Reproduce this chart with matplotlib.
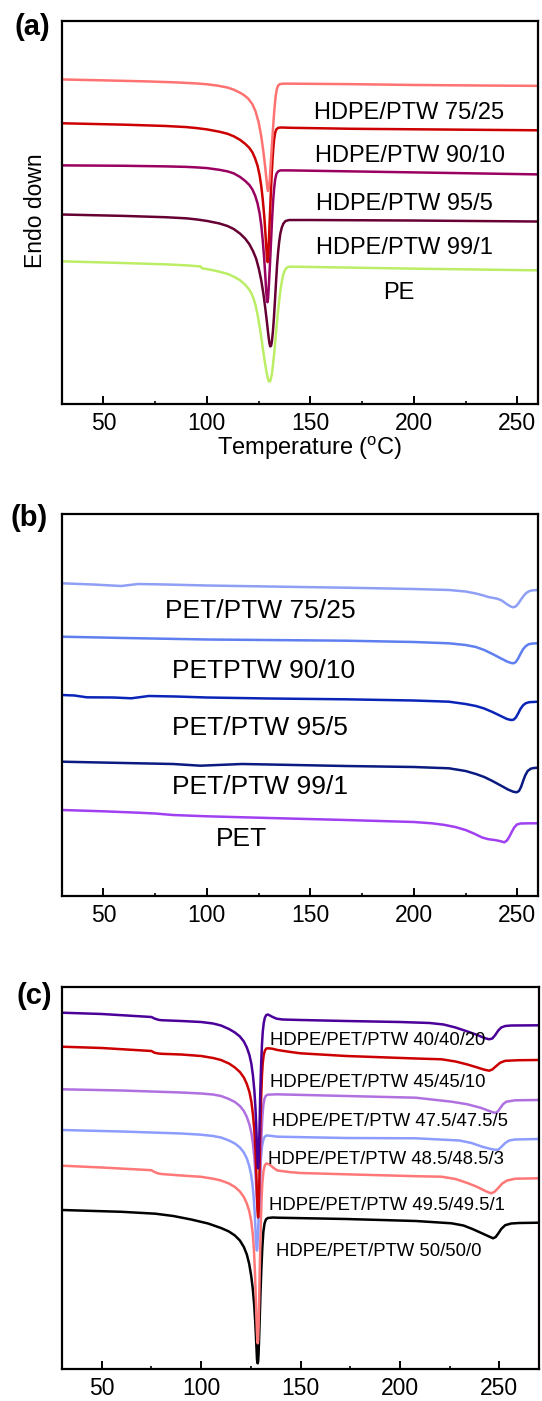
import matplotlib
matplotlib.use("Agg")
import matplotlib.pyplot as plt
from matplotlib.ticker import MultipleLocator, NullLocator

plt.rcParams['font.family'] = ['Liberation Sans', 'DejaVu Sans']
plt.rcParams['mathtext.fontset'] = 'custom'
plt.rcParams['mathtext.rm'] = 'Liberation Sans'

# ---- (a) HDPE / PTW blends, heat flow in arbitrary units (endo down) ----
a_names = ['HDPE/PTW 75/25', 'HDPE/PTW 90/10', 'HDPE/PTW 95/5', 'HDPE/PTW 99/1', 'PE']
a_colors = ['#ff7272', '#cc0000', '#990060', '#660033', '#bbee66']

a_t_7525 = [30, 50, 70, 85, 95, 100, 105, 110, 113, 116, 118, 120, 122, 123.5, 125, 126.2, 127.3, 128.2,
            128.8, 129.2, 129.5, 129.9, 130.4, 130.8, 131.3, 131.8, 132.3, 132.8, 133.3, 133.8, 134.4,
            135.2, 137, 140, 170, 200, 230, 260]
a_y_7525 = [323.7, 322.8, 321.8, 320.8, 319.7, 318.9, 317.6, 315.6, 313.5, 310.5, 308, 304.5, 299, 292, 281, 268, 252, 236,
            224, 216, 212.5, 215, 224, 238, 254, 270, 285, 298, 308, 314, 317.5,
            319, 319.5, 319.5, 319, 318.2, 317.7, 317.3]

a_t_9010 = [30, 60, 80, 90, 95, 100, 106, 110, 113, 116, 118.5, 120.5, 122, 123.3, 124.5, 125.5, 126.3, 127, 127.7,
            128.3, 128.8, 129.1, 129.4, 129.7, 130.1, 130.5, 130.9, 131.3, 131.7, 132.1, 132.5, 133, 133.6,
            134.5, 136, 140, 170, 200, 230, 260]
a_y_9010 = [280, 278.6, 277.3, 276.2, 275.2, 273.9, 271.6, 269.5, 267, 263.5, 259.5, 255.5, 251, 245, 237.5, 228, 217, 204, 188,
            170, 153, 143, 141.5, 150, 170, 190, 210, 228, 243, 255, 264, 270.5, 274,
            275.5, 275.8, 275.5, 274.5, 274, 273.5, 273]

a_t_955 = [30, 60, 80, 90, 95, 100, 106, 110, 113, 116, 118.5, 120.5, 122, 123.3, 124.5, 125.5, 126.3, 127, 127.7,
           128.2, 128.6, 128.9, 129.1, 129.3, 129.6, 130, 130.5, 131, 131.5, 132, 132.5, 133, 133.6, 134.4,
           135.5, 140, 170, 200, 230, 260]
a_y_955 = [238, 237.6, 237, 236.5, 236, 235.3, 233.6, 232, 230, 226.5, 222.5, 218.5, 214, 208, 200, 190, 178, 163, 145,
           129, 115, 106, 102, 101.5, 106, 120, 140, 162, 184, 202, 215, 224, 229.5, 232,
           233, 233, 232, 231, 230, 229]

a_t_991 = [30, 60, 80, 90, 95, 100, 106, 110, 113, 116, 118.5, 120.5, 122.3, 123.8, 125.1, 126.3, 127.3, 128.2, 129,
           129.7, 130.2, 130.6, 131, 131.4, 131.9, 132.4, 132.9, 133.4, 133.9, 134.4, 134.9, 135.5, 136.2,
           137, 138, 139.8, 150, 200, 260]
a_y_991 = [189, 187.6, 186.3, 185.2, 184.1, 182.6, 180.1, 177.5, 174.5, 170, 165, 159.5, 152.5, 145, 135, 123, 110, 96, 82,
           69, 61, 57.5, 58, 62, 72, 86, 103, 121, 138, 151, 161, 170, 176,
           180, 182.5, 183.5, 183.5, 183, 182]

a_t_pe = [30, 60, 80, 90, 97, 97.6, 100, 105, 110, 113, 116, 118.5, 120.3, 121.5, 122.6, 123.6, 124.6, 125.5,
          126.4, 127.2, 128, 128.8, 129.4, 130, 130.5, 131, 131.5, 132, 132.6, 133.2, 133.8, 134.4, 135,
          135.6, 136.2, 136.9, 137.7, 138.6, 140, 170, 200, 260]
a_y_pe = [142.3, 140.6, 139.3, 138.3, 137.2, 135.3, 134.6, 132.5, 129.8, 127, 123.5, 119, 114.5, 110.5, 105, 98, 88, 77,
          65, 53, 42, 32, 26, 22.5, 22.5, 25.5, 31, 40, 52, 66, 80, 93, 104,
          114, 122, 129, 133.5, 136, 137, 136, 135, 133.3]

# label anchor (temperature, heat flow)
a_lab_t = [197.5, 198, 195.5, 195.6, 192.7]
a_lab_y = [290, 247, 199, 156, 111]

# ---- (b) PET / PTW blends ----
b_names = ['PET/PTW 75/25', 'PETPTW 90/10', 'PET/PTW 95/5', 'PET/PTW 99/1', 'PET']
b_colors = ['#8e9ff5', '#5f7ff0', '#0a24b8', '#0a1a80', '#a040f0']

b_t_7525 = [30, 45, 58.5, 66.9, 80, 100, 130, 167, 200, 217, 225, 230, 233.7, 236, 238.5, 240.5, 242.5,
            244.5, 246.5, 247.9, 249.2, 250.5, 251.8, 253, 254.3, 255.7, 257.5, 260]
b_y_7525 = [312.7, 311.5, 310, 312, 311.5, 310.5, 309.5, 308.3, 307, 306, 304.5, 302.5, 300.5, 299, 298, 297.2, 295.5,
            292.5, 289.8, 288.7, 289.5, 292.5, 296.5, 300, 303, 304.8, 305.7, 306]

b_t_9010 = [30, 60, 100, 167, 200, 217, 225, 230, 234, 238, 242, 245, 247, 248.2, 249.3, 250.4, 251.5,
            252.7, 254, 255.5, 257.5, 260]
b_y_9010 = [259.3, 258, 256.5, 255.3, 254, 252.7, 251, 249, 246, 242, 237.7, 234.5, 233, 232.7, 234, 237.5, 242,
            246.5, 249.7, 251.8, 252.5, 252.7]

b_t_955 = [30, 36, 41.9, 55, 63.5, 71.9, 85, 100, 130, 167, 200, 217, 225, 230, 234, 238, 242, 245,
           247, 248.2, 249.3, 250.4, 251.5, 252.7, 254, 255.7, 260]
b_y_955 = [201, 200.5, 198.7, 198.5, 197.7, 200, 199.5, 198.5, 197.5, 196.7, 195.5, 194.3, 192, 190, 187.5, 184, 180, 177,
           176, 176.3, 178.5, 182.5, 187, 190.5, 192.7, 193.8, 194.3]

b_t_991 = [30, 60, 83.6, 96.9, 117, 130, 167, 200, 217, 225, 230, 234, 238, 242, 245.5, 248, 249.7,
           250.8, 251.8, 252.8, 253.8, 255, 256.5, 258, 260]
b_y_991 = [134.3, 133, 132, 130.3, 132, 131.5, 130, 129, 127.7, 125, 122, 119, 115, 110.5, 106.5, 104.3, 103.7,
           105, 109, 115, 120.5, 125, 127.3, 128, 128.3]

b_t_pet = [30, 50, 66.9, 75, 83.6, 100, 130, 167, 200, 208.7, 215, 220, 225, 229, 233, 236, 239,
           241.5, 243.7, 245, 246.2, 247.3, 248.5, 249.8, 251.5, 256, 260]
b_y_pet = [86, 84.7, 83.3, 82.5, 81, 79.7, 78, 76, 74, 72.7, 71, 69, 66, 62.5, 58.5, 56.8, 56,
           55, 53.7, 55.5, 59.5, 64, 68.5, 71.5, 72.5, 72.7, 72.7]

b_lab_t = [125.8, 127.3, 125.8, 125.8, 116.9]
b_lab_y = [285, 225.3, 168.3, 108.7, 56.7]

# ---- (c) HDPE / PET / PTW blends ----
c_names = ['HDPE/PET/PTW 40/40/20', 'HDPE/PET/PTW 45/45/10', 'HDPE/PET/PTW 47.5/47.5/5',
           'HDPE/PET/PTW 48.5/48.5/3', 'HDPE/PET/PTW 49.5/49.5/1', 'HDPE/PET/PTW 50/50/0']
c_colors = ['#4b0099', '#cc0000', '#b070e0', '#8c9cff', '#ff7777', '#000000']

c_t_20 = [30, 50, 75, 76.5, 78.5, 80, 90, 100, 106, 110, 114, 117, 119.5, 121.5, 123, 124.3, 125.3,
          126.1, 126.8, 127.3, 127.7, 128, 128.3, 128.5, 128.7, 128.9, 129.2, 129.5, 129.8, 130.2, 130.6,
          131, 131.5, 132.1, 132.8, 133.6, 134.6, 136, 138, 141, 150, 173, 200, 215, 222, 228, 234, 239,
          242.5, 244.9, 246.5, 248, 249.5, 251, 253, 256, 270]
c_y_20 = [356.3, 355, 352, 350.5, 349.2, 348.8, 348, 347, 345.5, 343.5, 340, 336.5, 332.5, 327.5, 321.5, 314, 305,
          293, 278, 262, 245, 228, 210, 202, 200.7, 206, 225, 252, 280, 305, 324,
          337, 346, 351.5, 354, 354.5, 353.5, 352, 350.3, 349.5, 349, 348, 347, 346, 344.5, 341.5, 337.5, 334,
          331, 329.7, 330.5, 334, 338.5, 341.5, 343, 343.5, 343.7]

c_t_10 = [30, 50, 75, 76.5, 78.5, 80, 90, 100, 106, 110, 114, 117, 119.5, 121.5, 123, 124.3, 125.3,
          126.1, 126.8, 127.3, 127.7, 128, 128.3, 128.5, 128.7, 128.9, 129.2, 129.5, 129.8, 130.2, 130.6,
          131, 131.5, 132.1, 132.8, 134, 136, 138.4, 145, 150, 173, 208, 221, 228, 234, 239, 242.5,
          244.9, 246.5, 248.5, 250.5, 253, 260, 270]
c_y_10 = [322.3, 321, 318, 316.3, 315.5, 315.2, 314.5, 313, 311, 309, 305.5, 301.5, 297, 291.5, 285, 277, 267,
          254, 238, 220, 200, 180, 162, 154, 151.5, 156, 178, 210, 243, 272, 293,
          306, 314, 318.5, 320.5, 320.7, 320.2, 319, 317, 315.7, 313, 310.5, 309.7, 307.5, 304.5, 301.5, 299.3,
          298.3, 299.5, 303, 306.3, 308.2, 308.8, 309]

c_t_5 = [30, 60, 90, 100, 106, 110, 114, 117, 119.5, 121.5, 123, 124.3, 125.3, 126.1, 126.8, 127.3, 127.7,
         128, 128.3, 128.6, 128.9, 129.1, 129.4, 129.7, 130, 130.4, 130.8, 131.3, 131.9, 132.6, 133.5, 138,
         173, 208, 226, 234, 241, 245, 247, 248.4, 249.5, 250.5, 252, 253.6, 258, 270]
c_y_5 = [279.7, 278.5, 276.5, 275.5, 274.5, 273, 270, 267, 263, 258, 252, 244.5, 236, 225, 211, 197, 183,
         172, 162, 158, 157.5, 160, 172, 190, 212, 235, 252, 264, 270.5, 273.3, 274.3, 274.7,
         273, 271.3, 267.3, 264.7, 261, 258, 256.5, 256.3, 258, 261, 265, 267.3, 268.7, 269]

c_t_3 = [30, 60, 90, 100, 106, 110, 114, 117, 119.5, 121.5, 123, 124.2, 125.1, 125.8, 126.4, 126.9, 127.3,
         127.6, 127.9, 128.1, 128.3, 128.6, 128.9, 129.3, 129.7, 130.1, 130.6, 131.2, 131.9, 132.8, 135,
         138.4, 173, 208, 230, 236, 241.4, 245.8, 248, 249.5, 251, 253, 255, 258, 270]
c_y_3 = [239, 237.5, 235.5, 234.3, 233, 231.5, 228.5, 225.5, 221.5, 216.5, 210.5, 203, 195, 185, 173, 158, 142,
         128, 120, 118.5, 121, 134, 152, 175, 196, 211, 222, 228.5, 232, 233.5, 233.2,
         232.3, 231, 230.7, 228.5, 226, 222.3, 220, 219.2, 219.3, 222, 226, 228.5, 229.5, 230]

c_t_1 = [30, 50, 75, 76.5, 78.5, 80, 90, 100, 106, 110, 114, 117, 119.5, 121.5, 123, 124.2, 125.2,
         126, 126.6, 127.1, 127.5, 127.8, 128.1, 128.3, 128.5, 128.7, 128.9, 129.2, 129.5, 129.9, 130.3,
         130.8, 131.4, 132, 132.8, 133.8, 135, 136.5, 138.4, 145, 150, 173, 208, 221, 228, 234.4, 239,
         243, 245.8, 247.5, 249.5, 251.5, 254, 258, 270]
c_y_1 = [203.3, 201.5, 198.8, 197, 195.5, 195, 193.5, 192.2, 190.3, 188.5, 185.5, 182, 177.5, 172, 165.5, 158, 148,
         135, 118, 96, 72, 52, 36, 28, 25.7, 29, 42, 68, 100, 135, 165,
         186, 198, 203.5, 205.5, 205, 203.5, 201, 198.5, 196.8, 196, 194.7, 192.8, 192.3, 190, 185.7, 182,
         178, 175.7, 177, 181, 185.5, 188.5, 190.3, 190.7]

c_t_0 = [30, 60, 77, 86, 95, 103.5, 110, 114, 117, 119.5, 121.5, 123, 124.2, 125.2, 126, 126.7, 127.2,
         127.6, 127.9, 128.1, 128.3, 128.5, 128.7, 128.9, 129.2, 129.5, 129.9, 130.3, 130.8, 131.3, 131.9,
         132.6, 133.5, 136, 138.4, 173, 208, 226, 232, 236.5, 241, 244.5, 246.9, 248.2, 249.5, 251, 253,
         256, 260, 270]
c_y_0 = [159, 157.2, 155.3, 153, 149.5, 145.5, 141, 137.5, 133.5, 128.5, 122, 114.5, 105, 93, 80, 64, 48,
         32, 19, 10, 6, 5.7, 8, 15, 32, 52, 78, 100, 122, 137, 145.5,
         149.5, 151, 151.5, 151.3, 150, 148, 145.7, 143.5, 140, 136, 132.8, 130.7, 132, 135.5, 140, 143.8,
         145.5, 146, 146.3]

c_lab_t = [134.9, 134.9, 135.8, 133.7, 134.4, 137.6]
c_lab_y = [328.3, 286.7, 248, 209, 163.3, 117.3]

a_series = [(a_t_7525, a_y_7525), (a_t_9010, a_y_9010), (a_t_955, a_y_955), (a_t_991, a_y_991), (a_t_pe, a_y_pe)]
b_series = [(b_t_7525, b_y_7525), (b_t_9010, b_y_9010), (b_t_955, b_y_955), (b_t_991, b_y_991), (b_t_pet, b_y_pet)]
c_series = [(c_t_20, c_y_20), (c_t_10, c_y_10), (c_t_5, c_y_5), (c_t_3, c_y_3), (c_t_1, c_y_1), (c_t_0, c_y_0)]

W, H = 542, 1401
fig = plt.figure(figsize=(W / 100, H / 100), dpi=100)


def px_axes(left, top, right, bottom):
    return fig.add_axes([left / W, 1 - bottom / H, (right - left) / W, (bottom - top) / H])


def style(ax, xmax):
    ax.set_xlim(30, xmax)
    ax.set_ylim(0, 382)
    for s in ax.spines.values():
        s.set_linewidth(1.6)
    ax.xaxis.set_major_locator(MultipleLocator(50))
    ax.xaxis.set_minor_locator(MultipleLocator(25))
    ax.yaxis.set_major_locator(NullLocator())
    ax.tick_params(axis='x', which='major', direction='in', length=5.5, width=1.4,
                   labelsize=16.5, pad=6, top=False)
    ax.tick_params(axis='x', which='minor', direction='in', length=2.5, width=1.2, top=False)


ax_a = px_axes(62, 21, 538, 404)
ax_b = px_axes(62, 514, 538, 896)
ax_c = px_axes(62, 987, 539, 1369)

style(ax_a, 260)
style(ax_b, 260)
style(ax_c, 270)

for (t, y), col in reversed(list(zip(a_series, a_colors))):
    ax_a.plot(t, y, color=col, lw=1.8, solid_joinstyle='round')
for name, tx, ty in zip(a_names, a_lab_t, a_lab_y):
    ax_a.text(tx, ty, name, fontsize=17, ha='center', va='center')

for (t, y), col in zip(b_series, b_colors):
    ax_b.plot(t, y, color=col, lw=1.8, solid_joinstyle='round')
for name, tx, ty in zip(b_names, b_lab_t, b_lab_y):
    ax_b.text(tx, ty, name, fontsize=19, ha='center', va='center')

for (t, y), col in reversed(list(zip(c_series, c_colors))):
    ax_c.plot(t, y, color=col, lw=1.8, solid_joinstyle='round')
for name, tx, ty in zip(c_names, c_lab_t, c_lab_y):
    ax_c.text(tx, ty, name, fontsize=13.3, ha='left', va='center')

fig.text(310 / W, 1 - 448 / H, 'Temperature ($\\mathregular{^{o}}$C)', fontsize=17,
         ha='center', va='center')
fig.text(36 / W, 1 - 211 / H, 'Endo down', fontsize=16.5, rotation=90, ha='center', va='center')

for lab, x, y in [('(a)', 32, 27), ('(b)', 29, 518), ('(c)', 34, 996)]:
    fig.text(x / W, 1 - y / H, lab, fontsize=21, fontweight='bold', ha='center', va='center')

fig.savefig('out.png', dpi=100)
